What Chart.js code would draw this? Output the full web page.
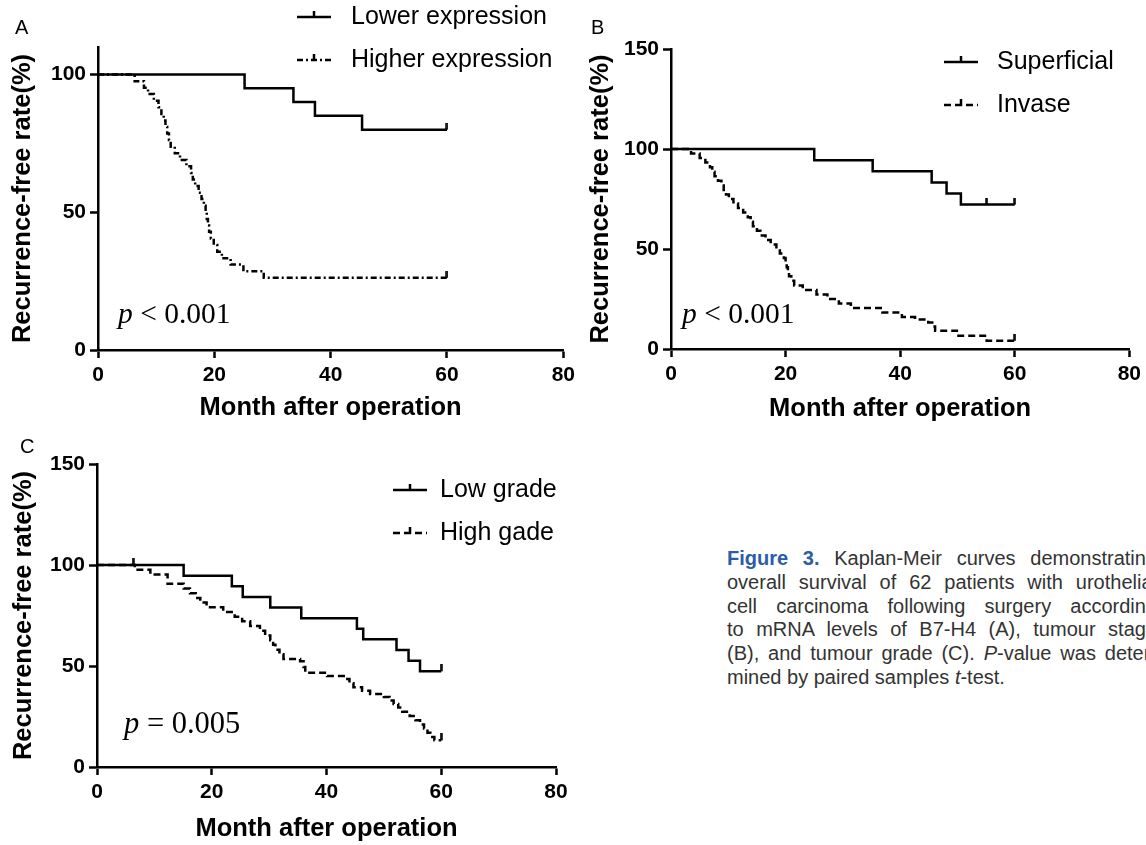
<!DOCTYPE html>
<html>
<head>
<meta charset="utf-8">
<script src="https://cdn.jsdelivr.net/npm/chart.js@4.4.1/dist/chart.umd.min.js"></script>
<style>
  body { margin: 0; background: #fff; width: 1146px; height: 845px; overflow: hidden; position: relative; }
  canvas { position: absolute; }
  .tag { position: absolute; font: 20px "Liberation Sans", Arial, sans-serif; color: #000; }
  #caption { position: absolute; left: 727px; top: 547px; font: 20px "Liberation Sans", Arial, sans-serif; color: #333; }
  #caption .ln { width: 430px; height: 23.8px; line-height: 23.8px; white-space: nowrap; text-align: justify; text-align-last: justify; }
  #caption .ln.last { text-align: left; text-align-last: left; }
  #caption .fig { color: #2c5ea8; font-weight: bold; }
</style>
</head>
<body>

<canvas id="chartA" width="580" height="430" style="left:0;top:0"></canvas>
<canvas id="chartB" width="566" height="430" style="left:580px;top:0"></canvas>
<canvas id="chartC" width="580" height="420" style="left:0;top:425px"></canvas>

<div class="tag" style="left:15px;top:16px">A</div>
<div class="tag" style="left:591px;top:16px">B</div>
<div class="tag" style="left:20px;top:435px">C</div>

<div id="caption">
  <div class="ln"><span class="fig">Figure 3.</span> Kaplan-Meir curves demonstrating</div>
  <div class="ln">overall survival of 62 patients with urothelial</div>
  <div class="ln">cell carcinoma following surgery according</div>
  <div class="ln">to mRNA levels of B7-H4 (A), tumour stage</div>
  <div class="ln">(B), and tumour grade (C). <i>P</i>-value was deter-</div>
  <div class="ln last">mined by paired samples <i>t</i>-test.</div>
</div>

<script>
const SANS = "'Liberation Sans', Arial, sans-serif";
const SERIF = "'Liberation Serif', 'Times New Roman', serif";

// ---- data ----
const xTicks = [0, 20, 40, 60, 80];
const yTicksA = [0, 50, 100];
const yTicksBC = [0, 50, 100, 150];

// A: B7-H4 expression
const lowMonthsA = [0, 25.2, 33.6, 37.3, 45.4, 60];
const lowRateA = [100, 95, 90, 85, 80, 80];
const highMonthsA = [0, 6.3, 7.9, 8.6, 9.6, 10.4, 10.9, 11.3, 11.6, 11.9, 12.2, 12.5, 13.2, 14.1, 15.2, 16.0, 16.3, 16.7, 17.3, 17.8,
  18.2, 18.5, 18.7, 18.9, 19.1, 19.4, 19.9, 20.5, 21.3, 22.8, 25.0, 28.5, 60];
const highRateA = [100, 97.6, 95.2, 92.9, 90.5, 88.1, 85.7, 83.3, 81.0, 78.6, 76.2, 73.8, 71.4, 69.0, 66.7, 64.3, 61.9, 59.5, 57.1, 54.8,
  52.4, 50.0, 47.6, 45.2, 42.9, 40.5, 38.1, 35.7, 33.3, 31.0, 28.6, 26.2, 26.2];
const censLowMonthsA = [60], censLowRateA = [80];
const censHighMonthsA = [60], censHighRateA = [26.2];

// B: tumour stage
const supMonthsB = [0, 25.0, 35.2, 45.5, 48.1, 50.6, 60];
const supRateB = [100, 94.4, 88.9, 83.3, 77.8, 72.2, 72.2];
const invMonthsB = [0, 3.5, 5.0, 6.0, 6.8, 7.2, 7.6, 8.2, 8.8, 9.2, 9.6, 10.1, 10.9, 11.7, 12.6, 13.4, 13.9, 14.3, 15.0, 15.6,
  16.5, 17.4, 18.4, 19.0, 19.7, 20.0, 20.2, 20.4, 20.6, 21.0, 21.5, 23.0, 25.4, 27.3, 29.3, 31.4, 36.9, 40.3, 42.6, 44.9,
  45.6, 46.1, 49.9, 55.1, 60];
const invRateB = [100, 97.7, 95.5, 93.2, 90.9, 88.6, 86.4, 84.1, 81.8, 79.5, 77.3, 75.0, 72.7, 70.5, 68.2, 65.9, 63.6, 61.4, 59.1, 56.8,
  54.5, 52.3, 50.0, 47.7, 45.5, 43.2, 40.9, 38.6, 36.4, 34.1, 31.8, 29.5, 27.3, 25.0, 22.7, 20.5, 18.2, 16.0, 14.8, 13.3,
  11.2, 9.1, 6.6, 4.1, 4.1];
const censSupMonthsB = [55.1, 60], censSupRateB = [72.2, 72.2];
const censInvMonthsB = [60], censInvRateB = [4.1];

// C: tumour grade
const lowMonthsC = [0, 15.1, 23.5, 25.4, 30.2, 35.6, 45.3, 46.4, 52.2, 54.3, 56.3, 60];
const lowRateC = [100, 94.7, 89.5, 84.2, 78.9, 73.7, 68.4, 63.2, 57.9, 52.6, 47.4, 47.4];
const highMonthsC = [0, 6.6, 9.3, 12.3, 15.1, 16.2, 17.2, 18.0, 19.1, 22.0, 24.0, 25.3, 26.7, 28.4, 29.3, 30.2, 30.7, 31.1, 31.8, 32.5,
  35.4, 36.0, 36.3, 40.1, 43.0, 44.0, 44.7, 46.2, 47.6, 50.0, 51.0, 51.7, 52.5, 53.2, 54.5, 55.5, 56.3, 57.0, 57.6, 58.1,
  58.8, 60];
const highRateC = [100, 97.7, 95.3, 90.7, 88.4, 86.0, 83.7, 81.4, 79.1, 76.7, 74.4, 72.1, 69.8, 67.4, 65.1, 62.8, 60.5, 58.1, 55.8, 53.5,
  52.3, 49.5, 46.6, 45.0, 43.6, 41.5, 39.5, 37.7, 36.2, 34.6, 32.9, 31.2, 29.4, 27.3, 25.2, 23.2, 21.1, 19.0, 16.9, 14.9,
  13.2, 13.2];
const censLowMonthsC = [60], censLowRateC = [47.4];
const censHighMonthsC = [6.3, 60], censHighRateC = [100, 13.2];

// censor mark: short vertical tick standing on the curve
const tickImg = document.createElement('canvas');
tickImg.width = 3; tickImg.height = 14;
tickImg.getContext('2d').fillRect(0.25, 0, 2.5, 7);

function pts(months, rates) {
  return months.map((m, i) => ({ x: m, y: rates[i] }));
}

function curve(label, months, rates, dash) {
  return {
    type: 'line', label: label, data: pts(months, rates), stepped: true,
    borderColor: '#000', borderWidth: 2.5, borderDash: dash, pointRadius: 0, fill: false
  };
}

function censor(months, rates) {
  return { type: 'scatter', label: '', data: pts(months, rates), pointStyle: tickImg, pointRadius: 7 };
}

// legend drawn like the GraphPad one: line with a tick, label on the right
function kmLegend(lx, ly, gap, tx) {
  return {
    id: 'kmLegend',
    afterDraw(chart) {
      const ctx = chart.ctx;
      [0, 1].forEach(i => {
        const ds = chart.data.datasets[i];
        const y = ly + i * gap;
        ctx.save();
        ctx.strokeStyle = '#000';
        ctx.lineWidth = 2.5;
        ctx.setLineDash(ds.borderDash || []);
        ctx.beginPath(); ctx.moveTo(lx, y); ctx.lineTo(lx + 34, y); ctx.stroke();
        ctx.setLineDash([]);
        ctx.beginPath(); ctx.moveTo(lx + 17, y - 6); ctx.lineTo(lx + 17, y + 1); ctx.stroke();
        ctx.fillStyle = '#000';
        ctx.font = '25px ' + SANS;
        ctx.textBaseline = 'middle';
        ctx.fillText(ds.label, lx + tx, y);
        ctx.restore();
      });
    }
  };
}

function pLabel(px, py, rest, size) {
  return {
    id: 'pLabel',
    afterDraw(chart) {
      const ctx = chart.ctx;
      ctx.save();
      ctx.fillStyle = '#000';
      ctx.textBaseline = 'middle';
      ctx.font = 'italic ' + size + 'px ' + SERIF;
      ctx.fillText('p', px, py);
      const w = ctx.measureText('p').width;
      ctx.font = size + 'px ' + SERIF;
      ctx.fillText(rest, px + w, py);
      ctx.restore();
    }
  };
}

function makeChart(id, o) {
  const tickFont = { family: SANS, size: 21, weight: 'bold' };
  const titleFont = { family: SANS, size: 25.5, weight: 'bold' };
  const grid = { display: true, drawOnChartArea: false, drawTicks: true, tickLength: 8, tickWidth: 2.5, tickColor: '#000' };
  const border = { display: true, color: '#000', width: 2.5 };
  return new Chart(document.getElementById(id), {
    type: 'line',
    data: { datasets: o.datasets },
    plugins: o.plugins,
    options: {
      responsive: false,
      animation: false,
      layout: { padding: o.pad },
      plugins: { legend: { display: false }, tooltip: { enabled: false } },
      scales: {
        x: {
          type: 'linear', min: 0, max: 80,
          grid: grid, border: border,
          ticks: { color: '#000', font: tickFont, padding: 5, maxRotation: 0 },
          title: { display: true, text: 'Month after operation', color: '#000', font: titleFont, padding: 0 },
          afterBuildTicks: s => { s.ticks = xTicks.map(v => ({ value: v })); },
          afterFit: s => { s.height = o.xh; }
        },
        y: {
          type: 'linear', min: 0, max: o.ymax,
          grid: grid, border: border,
          ticks: { color: '#000', font: tickFont, padding: 4 },
          title: { display: true, text: 'Recurrence-free rate(%)', color: '#000', font: titleFont, padding: { top: o.yt, bottom: 0 } },
          afterBuildTicks: s => { s.ticks = o.yticks.map(v => ({ value: v })); },
          afterFit: s => { s.width = o.yw; }
        }
      }
    }
  });
}

makeChart('chartA', {
  datasets: [
    curve('Lower expression', lowMonthsA, lowRateA, []),
    curve('Higher expression', highMonthsA, highRateA, [6, 3, 2, 3]),
    censor(censLowMonthsA, censLowRateA),
    censor(censHighMonthsA, censHighRateA)
  ],
  plugins: [kmLegend(297, 17, 43, 54), pLabel(118, 315, ' < 0.001', 29.5)],
  pad: { left: 0, right: 15, top: 47, bottom: 7 },
  xh: 73, yw: 98, yt: 8, ymax: 110, yticks: yTicksA
});

makeChart('chartB', {
  datasets: [
    curve('Superficial', supMonthsB, supRateB, []),
    curve('Invase', invMonthsB, invRateB, [7, 4]),
    censor(censSupMonthsB, censSupRateB),
    censor(censInvMonthsB, censInvRateB)
  ],
  plugins: [kmLegend(364, 62, 43, 53), pLabel(102, 315, ' < 0.001', 29.5)],
  pad: { left: 0, right: 14, top: 49, bottom: 6 },
  xh: 75, yw: 91, yt: 6, ymax: 150, yticks: yTicksBC
});

makeChart('chartC', {
  datasets: [
    curve('Low grade', lowMonthsC, lowRateC, []),
    curve('High gade', highMonthsC, highRateC, [7, 4]),
    censor(censLowMonthsC, censLowRateC),
    censor(censHighMonthsC, censHighRateC)
  ],
  plugins: [kmLegend(393, 65, 43, 47), pLabel(124, 300, ' = 0.005', 30.5)],
  pad: { left: 0, right: 24, top: 39, bottom: 1 },
  xh: 77, yw: 97, yt: 9, ymax: 150, yticks: yTicksBC
});
</script>
</body>
</html>
